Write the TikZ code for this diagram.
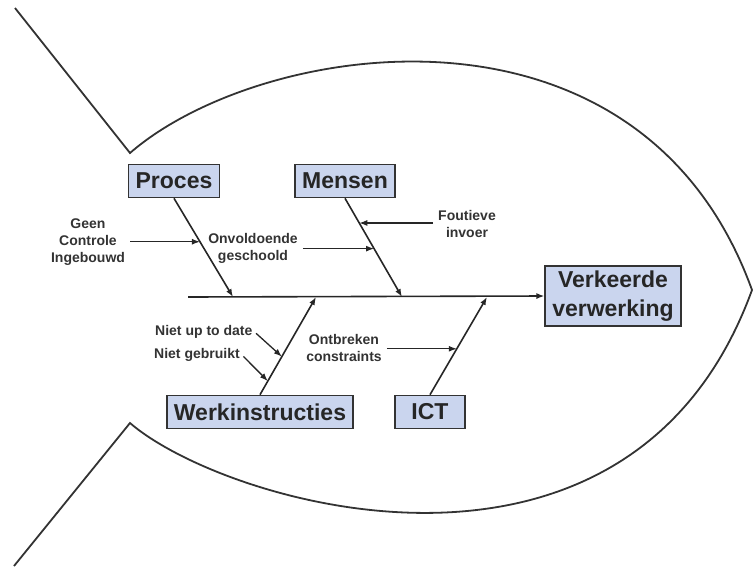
\documentclass[tikz,border=0pt]{standalone}
\usepackage{fontspec}
\setmainfont{Liberation Sans}
\usetikzlibrary{positioning,calc,arrows.meta}
\definecolor{boxblue}{RGB}{202,213,238}

\begin{document}
\begin{tikzpicture}[x=1pt,y=-1pt,
    outline/.style={draw=black!80, line width=1.8pt},
    bone/.style={draw=black!85, line width=1.6pt},
    tip/.style={-{Latex[length=8pt,width=6pt]}},
    box/.style={draw=black!80, line width=1.6pt, fill=boxblue, inner xsep=7pt, minimum height=33pt,
        font=\fontsize{23}{29}\selectfont\bfseries, text=black!85, align=center},
    cause/.style={font=\fontsize{14}{17}\selectfont\bfseries, text=black!80, align=center, inner sep=2pt}]
    \useasboundingbox (0,0) rectangle (754,568);

    % Fish outline
    \draw[outline] (15,8) -- (130,153) .. controls (260,40) and (640,-20) .. (752,290)
        .. controls (630,625) and (225,505) .. (130,423) -- (14,566);

    % Categories and effect
    \node[box] (proces) at (174,181) {Proces};
    \node[box] (mensen) at (345,181) {Mensen};
    \node[box] (werk) at (260,412) {Werkinstructies};
    \node[box, minimum width=70pt] (ict) at (430,412) {ICT};
    \node[box, minimum height=60pt] (effect) at (613,296) {Verkeerde\\verwerking};

    % Spine
    \coordinate (start) at (188,297);
    \draw[bone,tip] (start) -- (effect.west);

    % Bones
    \coordinate (pj) at (233,297);
    \coordinate (mj) at (402,297);
    \coordinate (wj) at (316,297);
    \coordinate (ij) at (487,297);
    \draw[bone,tip] (proces.south) -- (pj);
    \draw[bone,tip] (mensen.south) -- (mj);
    \draw[bone,tip] (werk.north) -- (wj);
    \draw[bone,tip] (ict.north) -- (ij);

    % Causes
    \node[cause] (geen) at (88,242) {Geen\\Controle\\Ingebouwd};
    \node[cause] (onv) at (253,248) {Onvoldoende\\geschoold};
    \node[cause] (fout) at (467,224) {Foutieve\\invoer};
    \node[cause, anchor=west] (nud) at (153,332) {Niet up to date};
    \node[cause, anchor=west] (ngb) at (152,355) {Niet gebruikt};
    \node[cause] (ontb) at (344,348) {Ontbreken\\constraints};

    \coordinate (g) at ($(proces.south)!0.44!(pj)$);
    \coordinate (o) at ($(mensen.south)!0.51!(mj)$);
    \coordinate (f) at ($(mensen.south)!0.25!(mj)$);
    \coordinate (u) at ($(werk.north)!0.39!(wj)$);
    \coordinate (n) at ($(werk.north)!0.14!(wj)$);
    \coordinate (c) at ($(ict.north)!0.47!(ij)$);

    \draw[bone,tip,line width=1.3pt,shorten <=3pt] (geen.east |- g) -- (g);
    \draw[bone,tip,line width=1.3pt,shorten <=3pt] (onv.east |- o) -- (o);
    \draw[bone,tip,line width=1.3pt,shorten <=3pt] (fout.west |- f) -- (f);
    \draw[bone,tip,line width=1.3pt,shorten <=2pt] (nud.east) -- (u);
    \draw[bone,tip,line width=1.3pt,shorten <=2pt] (ngb.east) -- (n);
    \draw[bone,tip,line width=1.3pt,shorten <=3pt] (ontb.east |- c) -- (c);

\end{tikzpicture}
\end{document}
